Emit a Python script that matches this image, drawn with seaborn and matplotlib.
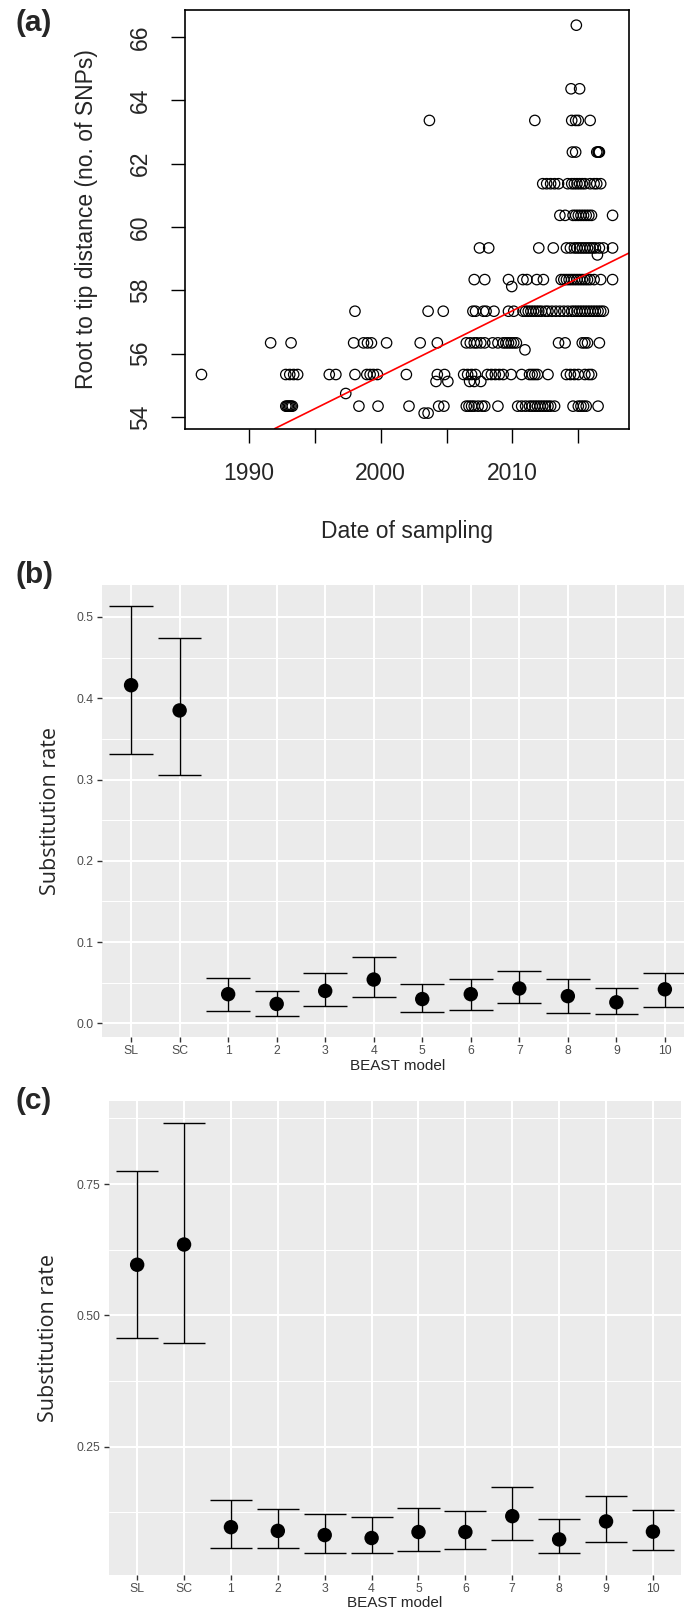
import numpy as np
import pandas as pd
import matplotlib
matplotlib.use('Agg')
import matplotlib.pyplot as plt
from matplotlib.ticker import MultipleLocator
import seaborn as sns

sns.set_style('white')
plt.rcParams['font.family'] = ['Liberation Sans', 'DejaVu Sans']

# ---- (a) root-to-tip distance vs sampling date, one year list per distance level
dist_levels = [54.12, 54.34, 54.74, 55.12, 55.34, 56.12, 56.34, 57.34, 58.12,
               58.34, 59.12, 59.34, 60.37, 61.37, 62.37, 63.37, 64.37, 66.38]
yrs_54a = [2003.3, 2003.6]
yrs_54 = [1992.8, 1992.9, 1993.0, 1993.1, 1993.2, 1993.3, 1998.35, 1999.8, 2002.15,
          2004.4, 2004.8, 2006.5, 2006.7, 2006.9, 2007.1, 2007.4, 2007.7, 2007.9, 2008.9,
          2010.4, 2010.7, 2011.0, 2011.3, 2011.5, 2011.7, 2011.9, 2012.1, 2012.3, 2012.5,
          2012.7, 2012.9, 2013.2, 2014.6, 2015.0, 2015.2, 2015.4, 2015.6, 2016.5]
yrs_54b = [1997.35]
yrs_55a = [2004.2, 2005.1, 2006.75, 2007.1, 2007.6]
yrs_55 = [1986.4, 1992.8, 1993.1, 1993.4, 1993.7, 1996.1, 1996.6, 1998.05, 1998.95,
          1999.2, 1999.45, 1999.75, 2001.95, 2004.3, 2004.85, 2006.3, 2006.6, 2006.9,
          2007.2, 2008.1, 2008.4, 2008.7, 2009.0, 2009.3, 2009.9, 2010.7, 2011.3, 2011.5,
          2011.7, 2011.9, 2012.7, 2014.1, 2014.4, 2014.7, 2015.0, 2015.5, 2015.8, 2016.0]
yrs_56a = [2010.95]
yrs_56 = [1991.65, 1993.2, 1997.95, 1998.7, 1999.0, 1999.3, 2000.45, 2003.0, 2004.3,
          2006.5, 2006.8, 2007.1, 2007.3, 2007.6, 2007.9, 2008.5, 2008.9, 2009.3, 2009.5,
          2009.7, 2009.9, 2010.1, 2010.3, 2013.5, 2014.0, 2015.3, 2015.5, 2015.7, 2016.6]
yrs_57 = [1998.05, 2003.6, 2004.75, 2007.0, 2007.2, 2007.8, 2008.0, 2008.6, 2009.7,
          2010.1, 2010.8, 2011.0, 2011.2, 2011.4, 2011.6, 2011.8, 2012.0, 2012.2, 2012.5,
          2012.7, 2013.0, 2013.3, 2013.6, 2013.9, 2014.2, 2014.5, 2014.7, 2014.9, 2015.1,
          2015.3, 2015.5, 2015.7, 2015.9, 2016.1, 2016.3, 2016.5, 2016.7, 2016.9]
yrs_58a = [2009.95]
yrs_58 = [2007.1, 2007.9, 2009.7, 2010.8, 2011.1, 2011.85, 2012.35, 2013.7, 2013.9,
          2014.1, 2014.3, 2014.5, 2014.7, 2014.9, 2015.1, 2015.3, 2015.5, 2015.7, 2015.9,
          2016.2, 2016.7, 2017.6]
yrs_59a = [2016.45]
yrs_59 = [2007.5, 2008.2, 2012.0, 2013.1, 2014.1, 2014.4, 2014.7, 2014.9, 2015.1,
          2015.3, 2015.5, 2015.7, 2015.9, 2016.1, 2016.3, 2016.6, 2016.9, 2017.6]
yrs_60 = [2013.6, 2014.0, 2014.6, 2014.8, 2015.0, 2015.2, 2015.4, 2015.6, 2015.8,
          2016.0, 2017.6]
yrs_61 = [2012.3, 2012.6, 2012.9, 2013.2, 2013.5, 2014.2, 2014.5, 2014.7, 2014.9,
          2015.1, 2015.3, 2015.5, 2015.9, 2016.2, 2016.4, 2016.7]
yrs_62 = [2014.55, 2014.8, 2016.4, 2016.5, 2016.55, 2016.6]
yrs_63 = [2003.7, 2011.7, 2014.5, 2014.8, 2015.0, 2015.9]
yrs_64 = [2014.45, 2015.1]
yrs_66 = [2014.85]

fit_slope = 0.2064      # red regression line
fit_at_2000 = 55.29

# ---- (b) and (c) substitution rates per BEAST model
models = ['SL', 'SC', '1', '2', '3', '4', '5', '6', '7', '8', '9', '10']
rate_b = [0.416, 0.385, 0.036, 0.024, 0.040, 0.054, 0.030, 0.036, 0.043, 0.0336, 0.026, 0.042]
lo_b = [0.332, 0.305, 0.015, 0.0086, 0.021, 0.033, 0.0143, 0.0168, 0.0246, 0.013, 0.0119, 0.0205]
hi_b = [0.514, 0.474, 0.056, 0.040, 0.0615, 0.0816, 0.048, 0.055, 0.0648, 0.0545, 0.0434, 0.062]
rate_c = [0.5965, 0.635, 0.097, 0.090, 0.082, 0.0764, 0.0878, 0.0878, 0.118, 0.0737, 0.108, 0.0885]
lo_c = [0.4564, 0.448, 0.057, 0.0577, 0.0483, 0.047, 0.051, 0.0563, 0.0724, 0.047, 0.0684, 0.0536]
hi_c = [0.775, 0.867, 0.149, 0.131, 0.123, 0.1166, 0.1334, 0.1287, 0.173, 0.112, 0.157, 0.130]

year_lists = [yrs_54a, yrs_54, yrs_54b, yrs_55a, yrs_55, yrs_56a, yrs_56, yrs_57, yrs_58a,
              yrs_58, yrs_59a, yrs_59, yrs_60, yrs_61, yrs_62, yrs_63, yrs_64, yrs_66]
rtt = pd.DataFrame({'year': np.concatenate(year_lists),
                    'dist': np.repeat(dist_levels, [len(l) for l in year_lists])})

fig = plt.figure(figsize=(6.84, 16.12), dpi=100)

# ---------------- (a)
ax = fig.add_axes([0.2705, 0.7341, 0.6491, 0.2599])
sns.scatterplot(data=rtt, x='year', y='dist', facecolors='none', edgecolor='black',
                s=56, linewidth=0.9, ax=ax)
xr = rtt['year'].max() - rtt['year'].min()
yr = rtt['dist'].max() - rtt['dist'].min()
ax.set_xlim(rtt['year'].min() - 0.04 * xr, rtt['year'].max() + 0.04 * xr)
ax.set_ylim(rtt['dist'].min() - 0.04 * yr, rtt['dist'].max() + 0.04 * yr)
ax.axline((2000, fit_at_2000), slope=fit_slope, color='red', lw=1.2)
for s in ax.spines.values():
    s.set_visible(True)
    s.set_color('black')
    s.set_linewidth(1.2)
ax.set_xticks(range(1990, 2016, 5))
ax.set_xticklabels(['1990', '', '2000', '', '2010', ''])
ax.set_yticks(range(54, 67, 2))
ax.set_yticklabels([str(v) for v in range(54, 67, 2)], rotation=90, va='center')
ax.tick_params(direction='out', length=10, width=1, color='black', labelsize=16.5,
               pad=14, left=True, bottom=True)
ax.set_xlabel('Date of sampling', fontsize=16.5, va='center')
ax.xaxis.set_label_coords(0.5, -0.2445)
ax.set_ylabel('Root to tip distance (no. of SNPs)', fontsize=16.5, va='center')
ax.yaxis.set_label_coords(-0.223, 0.5)


def gg_panel(rect, rate, lo, hi, step, fmt, ylab_x, xlab_y):
    ax = fig.add_axes(rect)
    pos = np.arange(len(models))
    ax.set_facecolor('#EBEBEB')
    for s in ax.spines.values():
        s.set_visible(False)
    ax.vlines(pos, lo, hi, color='black', lw=1.0, zorder=2)
    ax.hlines(lo, pos - 0.45, pos + 0.45, color='black', lw=1.0, zorder=2)
    ax.hlines(hi, pos - 0.45, pos + 0.45, color='black', lw=1.0, zorder=2)
    sns.scatterplot(x=pos, y=rate, color='black', s=108, edgecolor='none', zorder=3, ax=ax)
    span = max(hi) - min(lo)
    ax.set_ylim(min(lo) - 0.05 * span, max(hi) + 0.05 * span)
    ax.set_xlim(-0.6, len(models) - 0.4)
    ax.set_xticks(pos)
    ax.set_xticklabels(models)
    ax.yaxis.set_major_locator(MultipleLocator(step))
    ax.yaxis.set_minor_locator(MultipleLocator(step / 2))
    ax.yaxis.set_major_formatter(fmt)
    ax.grid(True, which='major', color='white', lw=1.45)
    ax.grid(True, which='minor', axis='y', color='white', lw=0.72)
    ax.set_axisbelow(True)
    ax.tick_params(which='major', direction='out', length=3.8, width=1.0, color='#333333',
                   labelsize=8.8, labelcolor='#4D4D4D', pad=2.2, left=True, bottom=True)
    ax.tick_params(which='minor', length=0)
    ax.set_ylabel('Substitution rate', fontsize=15.5, family=['Open Sans', 'DejaVu Sans'],
                  va='center')
    ax.yaxis.set_label_coords(ylab_x, 0.5)
    ax.set_xlabel('BEAST model', fontsize=11, va='center')
    ax.xaxis.set_label_coords(0.5, xlab_y)
    return ax


gg_panel([0.1491, 0.3567, 0.8655, 0.2804], rate_b, lo_b, hi_b, 0.1, '{x:.1f}', -0.0878, -0.0642)
ax_c = gg_panel([0.1594, 0.02295, 0.8363, 0.2940], rate_c, lo_c, hi_c, 0.25, '{x:.2f}',
                -0.1058, -0.059)
ax_c.set_yticks([0.25, 0.50, 0.75])

fig.text(0.022, 0.9858, '(a)', fontsize=21.5, fontweight='bold', ha='left', va='center')
fig.text(0.022, 0.6433, '(b)', fontsize=21.5, fontweight='bold', ha='left', va='center')
fig.text(0.022, 0.3170, '(c)', fontsize=21.5, fontweight='bold', ha='left', va='center')

fig.savefig('out.png', dpi=100)
